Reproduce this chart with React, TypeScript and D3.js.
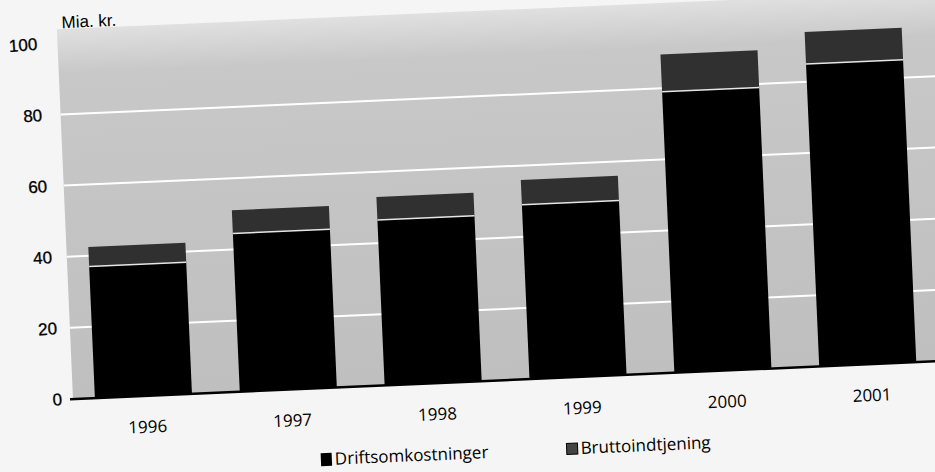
import React from "react";
import * as d3 from "d3";

const years = ["1996", "1997", "1998", "1999", "2000", "2001"];
const driftsomkostninger = [37, 44.5, 46.5, 49, 79, 85];
const bruttoindtjening = [5.5, 6.5, 6.5, 7, 10.5, 9];
const yTicks = [0, 20, 40, 60, 80, 100];
const gridTicks = [20, 40, 60, 80];

const W = 935;
const H = 472;
// the scanned page is tilted, so the chart is drawn in rotated groups
const origin = { x: 73, y: 399 };
const tilt = -2.5;

const App = () => {
  const x = d3
    .scaleBand()
    .domain(years)
    .range([71, 941])
    .paddingInner(0.33)
    .paddingOuter(0.165);

  const y = d3.scaleLinear().domain([0, 100]).range([399, 43]);

  const font = "'Open Sans', 'DejaVu Sans', sans-serif";
  const arial = "'Liberation Sans', Arial, sans-serif";

  return (
    <svg
      width={W}
      height={H}
      style={{ position: "absolute", left: 0, top: 0, background: "#f5f5f5" }}
    >
      <defs>
        <linearGradient id="bgfade" x1="0" x2="0" y1="0" y2="1">
          <stop offset="0" stopColor="#e0e0e0" />
          <stop offset="0.12" stopColor="#c8c8c8" />
          <stop offset="1" stopColor="#bfbfbf" />
        </linearGradient>
      </defs>
      <g transform={`rotate(${tilt}, ${origin.x}, ${origin.y})`}>
        <rect x={73} y={y(100) - 14} width={900} height={y(0) - y(100) + 14} fill="url(#bgfade)" />
        {gridTicks.map((t) => (
          <line key={t} x1={73} x2={980} y1={y(t)} y2={y(t)} stroke="#ffffff" strokeWidth={2} />
        ))}

        {years.map((yr, i) => {
          const d = driftsomkostninger[i];
          const b = bruttoindtjening[i];
          const bx = x(yr) as number;
          return (
            <g key={yr}>
              <rect x={bx} y={y(d + b)} width={x.bandwidth()} height={y(d) - y(d + b)} fill="#303030" />
              <rect x={bx} y={y(d)} width={x.bandwidth()} height={y(0) - y(d)} fill="#000000" />
              <line
                x1={bx}
                x2={bx + x.bandwidth()}
                y1={y(d)}
                y2={y(d)}
                stroke="#e6e6e6"
                strokeWidth={1.5}
              />
            </g>
          );
        })}

        <line x1={70} x2={960} y1={y(0)} y2={y(0)} stroke="#000" strokeWidth={2.5} />

        <text x={78} y={28} fontFamily={arial} fontSize={17} fill="#000">
          Mia. kr.
        </text>

        {years.map((yr) => (
          <text
            key={yr}
            x={(x(yr) as number) + x.bandwidth() / 2 + 3}
            y={436}
            textAnchor="middle"
            fontFamily={font}
            fontSize={17}
            fontWeight={500}
            fill="#000"
          >
            {yr}
          </text>
        ))}

        <g transform="translate(318, 464)">
          <rect width={11} height={13} fill="#000" />
          <text x={14} y={12} fontFamily={font} fontSize={17} fontWeight={500} fill="#000">
            Driftsomkostninger
          </text>
        </g>
        <g transform="translate(564, 465)">
          <rect width={11} height={11} fill="#444" stroke="#000" strokeWidth={1} />
          <text x={14} y={11} fontFamily={font} fontSize={17} fontWeight={500} fill="#000">
            Bruttoindtjening
          </text>
        </g>
      </g>

      <g transform={`rotate(-4, 62, ${origin.y})`}>
        {yTicks.map((t) => (
          <text
            key={t}
            x={62}
            y={y(t)}
            dy="0.36em"
            textAnchor="end"
            fontFamily={arial}
            fontSize={17}
            stroke="#000"
            strokeWidth={0.3}
            fill="#000"
          >
            {t}
          </text>
        ))}
      </g>
    </svg>
  );
};

export default App;
